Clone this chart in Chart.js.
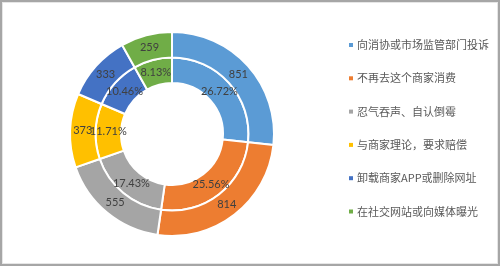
<!DOCTYPE html>
<html>
<head>
<meta charset="utf-8">
<script src="https://cdn.jsdelivr.net/npm/chart.js@4.4.1/dist/chart.umd.min.js"></script>
<style>
html,body{margin:0;padding:0;background:#fff;}
#wrap{position:relative;width:500px;height:266px;}
</style>
</head>
<body>
<div id="wrap"><canvas id="c" width="500" height="266"></canvas></div>
<script>
const categories = ['向消协或市场监管部门投诉','不再去这个商家消费','忍气吞声、自认倒霉','与商家理论，要求赔偿','卸载商家APP或删除网址','在社交网站或向媒体曝光'];
const counts = [851, 814, 555, 373, 333, 259];
const percentLabels = ['26.72%','25.56%','17.43%','11.71%','10.46%','8.13%'];
const colors = ['#5B9BD5','#ED7D31','#A5A5A5','#FFC000','#4472C4','#70AD47'];

const LABEL_FONT = '11px Lato, "Noto Sans", sans-serif';
const LEGEND_FONT = '11px "Noto Sans CJK SC", sans-serif';

const framePlugin = {
  id: 'frame',
  beforeDraw(chart) {
    const ctx = chart.ctx;
    ctx.save();
    ctx.fillStyle = '#ffffff';
    ctx.fillRect(0, 0, chart.width, chart.height);
    ctx.strokeStyle = '#a6a6a6';
    ctx.lineWidth = 2;
    ctx.strokeRect(1, 1, chart.width - 2, chart.height - 2);
    ctx.strokeStyle = '#e6e6e6';
    ctx.lineWidth = 1;
    ctx.strokeRect(2.5, 2.5, chart.width - 5, chart.height - 5);
    ctx.restore();
  }
};

const labelPlugin = {
  id: 'arcLabels',
  afterDatasetsDraw(chart) {
    const ctx = chart.ctx;
    ctx.save();
    ctx.font = LABEL_FONT;
    ctx.fillStyle = '#404040';
    ctx.textAlign = 'center';
    ctx.textBaseline = 'middle';
    chart.data.datasets.forEach((ds, di) => {
      const meta = chart.getDatasetMeta(di);
      meta.data.forEach((arc, i) => {
        const p = arc.tooltipPosition();
        ctx.fillText(ds.labelTexts[i], p.x, p.y);
      });
    });
    ctx.restore();
  }
};

const legendPlugin = {
  id: 'sideLegend',
  afterDraw(chart) {
    const ctx = chart.ctx;
    ctx.save();
    ctx.font = LEGEND_FONT;
    ctx.textBaseline = 'middle';
    ctx.textAlign = 'left';
    const x0 = 349, y0 = 45, step = 33.3;
    categories.forEach((c, i) => {
      const y = y0 + i * step;
      ctx.fillStyle = colors[i];
      ctx.fillRect(x0, y - 2, 4, 4);
      ctx.fillStyle = '#595959';
      ctx.fillText(c, x0 + 8, y);
    });
    ctx.restore();
  }
};

new Chart(document.getElementById('c'), {
  type: 'doughnut',
  data: {
    labels: categories,
    datasets: [
      { data: counts, backgroundColor: colors, borderColor: '#ffffff', borderWidth: 2, labelTexts: counts.map(String) },
      { data: counts, backgroundColor: colors, borderColor: '#ffffff', borderWidth: 2, labelTexts: percentLabels }
    ]
  },
  options: {
    responsive: false,
    animation: false,
    cutout: '50%',
    layout: { padding: { left: 69, right: 225, top: 31, bottom: 29 } },
    plugins: { legend: { display: false }, tooltip: { enabled: false } }
  },
  plugins: [framePlugin, labelPlugin, legendPlugin]
});
</script>
</body>
</html>
